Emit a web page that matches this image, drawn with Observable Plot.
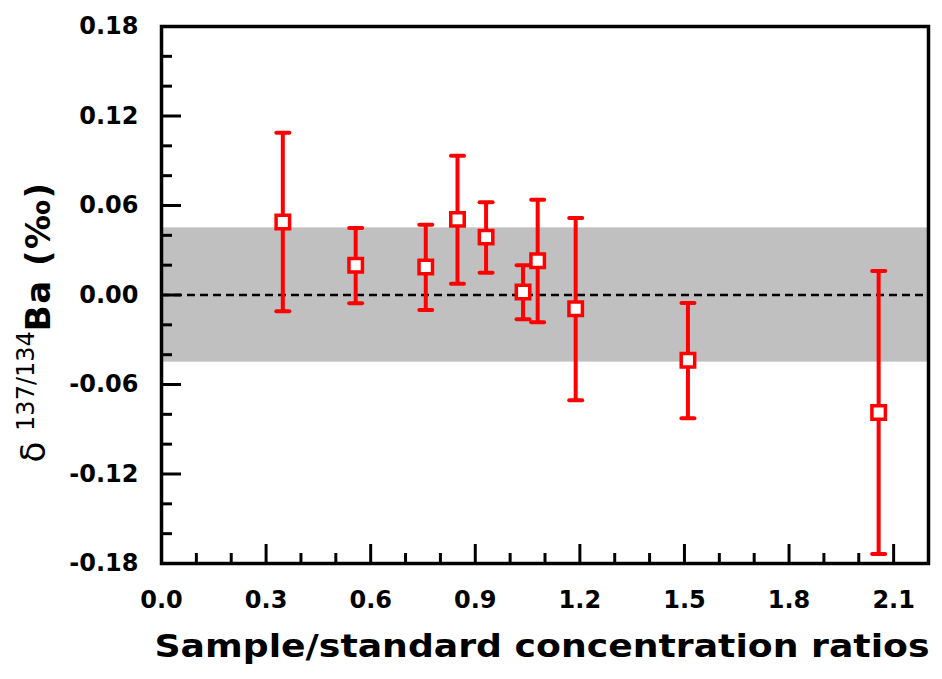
<!DOCTYPE html>
<html>
<head>
<meta charset="utf-8">
<script src="https://cdn.jsdelivr.net/npm/d3@7"></script>
<script src="https://cdn.jsdelivr.net/npm/@observablehq/plot@0.6"></script>
<style>
  html, body { margin: 0; padding: 0; background: #fff; }
  #chart { width: 942px; height: 679px; }
</style>
</head>
<body>
<div id="chart"></div>
<script>
// ---- data ----
const ratio = [0.348, 0.557, 0.758, 0.849, 0.931, 1.037, 1.079, 1.188, 1.510, 2.057];
const delta = [0.0489, 0.0199, 0.0188, 0.0507, 0.0388, 0.0020, 0.0230, -0.0092, -0.0437, -0.0788];
const errHigh = [0.1087, 0.0449, 0.0471, 0.0933, 0.0621, 0.0199, 0.0638, 0.0516, -0.0054, 0.0161];
const errLow = [-0.0109, -0.0056, -0.0100, 0.0076, 0.0149, -0.0163, -0.0183, -0.0705, -0.0826, -0.1737];
const bandLow = -0.045;
const bandHigh = 0.045;
const xDomain = [0, 2.2];
const yDomain = [-0.18, 0.18];
const xTickLabels = [0.0, 0.3, 0.6, 0.9, 1.2, 1.5, 1.8, 2.1];
const xMajor = [0.3, 0.6, 0.9, 1.2, 1.5, 1.8, 2.1];
const xMinor = [0.1, 0.2, 0.4, 0.5, 0.7, 0.8, 1.0, 1.1, 1.3, 1.4, 1.6, 1.7, 1.9, 2.0];
const yTickLabels = [-0.18, -0.12, -0.06, 0.0, 0.06, 0.12, 0.18];
const yMajor = [-0.12, -0.06, 0.0, 0.06, 0.12];
const yMinor = [-0.16, -0.14, -0.10, -0.08, -0.04, -0.02, 0.02, 0.04, 0.08, 0.10, 0.14, 0.16];
const xLabel = "Sample/standard concentration ratios";

const points = ratio.map((x, i) => ({x, y: delta[i], hi: errHigh[i], lo: errLow[i]}));

const W = 942, H = 679;
const mL = 161, mR = 14, mT = 26, mB = 116;
const frameH = H - mT - mB;
const frameW = W - mL - mR;
const red = "#ff0000";
const font = "'DejaVu Sans', 'Liberation Sans', Arial, sans-serif";

const capSymbol = {
  draw(context, size) {
    const w = Math.sqrt(size / Math.PI);
    context.moveTo(-w, 0);
    context.lineTo(w, 0);
  }
};

const chart = Plot.plot({
  width: W,
  height: H,
  marginLeft: mL,
  marginRight: mR,
  marginTop: mT,
  marginBottom: mB,
  style: {fontFamily: font, background: "#fff", color: "#000"},
  x: {domain: xDomain},
  y: {domain: yDomain},
  marks: [
    Plot.rect([{x1: xDomain[0], x2: xDomain[1], y1: bandLow, y2: bandHigh}], {x1: "x1", x2: "x2", y1: "y1", y2: "y2", fill: "#c0c0c0"}),
    Plot.ruleY([0], {stroke: "#000", strokeWidth: 2.6, strokeDasharray: "8,5"}),
    Plot.ruleX(points, {x: "x", y1: "lo", y2: "hi", stroke: red, strokeWidth: 4}),
    Plot.dot(points, {x: "x", y: "hi", symbol: capSymbol, r: 6.5, fill: "none", stroke: red, strokeWidth: 4, strokeLinecap: "round"}),
    Plot.dot(points, {x: "x", y: "lo", symbol: capSymbol, r: 6.5, fill: "none", stroke: red, strokeWidth: 4, strokeLinecap: "round"}),
    Plot.dot(points, {x: "x", y: "y", symbol: "square", r: 7.6, fill: "#fff", stroke: red, strokeWidth: 3.5}),
    // inward ticks
    Plot.tickX(xMajor, {x: d => d, insetTop: frameH - 19, stroke: "#000", strokeWidth: 3}),
    Plot.tickX(xMinor, {x: d => d, insetTop: frameH - 10, stroke: "#000", strokeWidth: 3}),
    Plot.tickY(yMajor, {y: d => d, insetRight: frameW - 20, stroke: "#000", strokeWidth: 3}),
    Plot.tickY(yMinor, {y: d => d, insetRight: frameW - 11, stroke: "#000", strokeWidth: 3}),
    Plot.axisX({ticks: xTickLabels, tickSize: 0, tickPadding: 27, tickFormat: d => d.toFixed(1), fontSize: 24, fontWeight: "bold", label: null}),
    Plot.axisY({ticks: yTickLabels, tickSize: 0, tickPadding: 23, tickFormat: d => d.toFixed(2), fontSize: 24, fontWeight: "bold", label: null}),
    Plot.frame({stroke: "#000", strokeWidth: 3.5})
  ]
});

document.getElementById("chart").appendChild(chart);

const svg = d3.select(chart);
svg.append("text")
  .attr("x", 542)
  .attr("y", 657)
  .attr("text-anchor", "middle")
  .attr("font-family", font)
  .attr("font-size", 32)
  .attr("font-weight", "bold")
  .attr("fill", "#000")
  .attr("textLength", 775)
  .attr("lengthAdjust", "spacingAndGlyphs")
  .text(xLabel);

const yl = svg.append("text")
  .attr("transform", "translate(50,322) rotate(-90)")
  .attr("text-anchor", "middle")
  .attr("font-family", font)
  .attr("fill", "#000");
yl.append("tspan").attr("font-size", 34).attr("dy", -5).text("δ ");
yl.append("tspan").attr("font-size", 24).attr("dy", -11).text("137/134");
yl.append("tspan").attr("font-size", 34).attr("font-weight", "bold").attr("dy", 16).attr("letter-spacing", 1.5).text("Ba (‰)");
</script>
</body>
</html>
